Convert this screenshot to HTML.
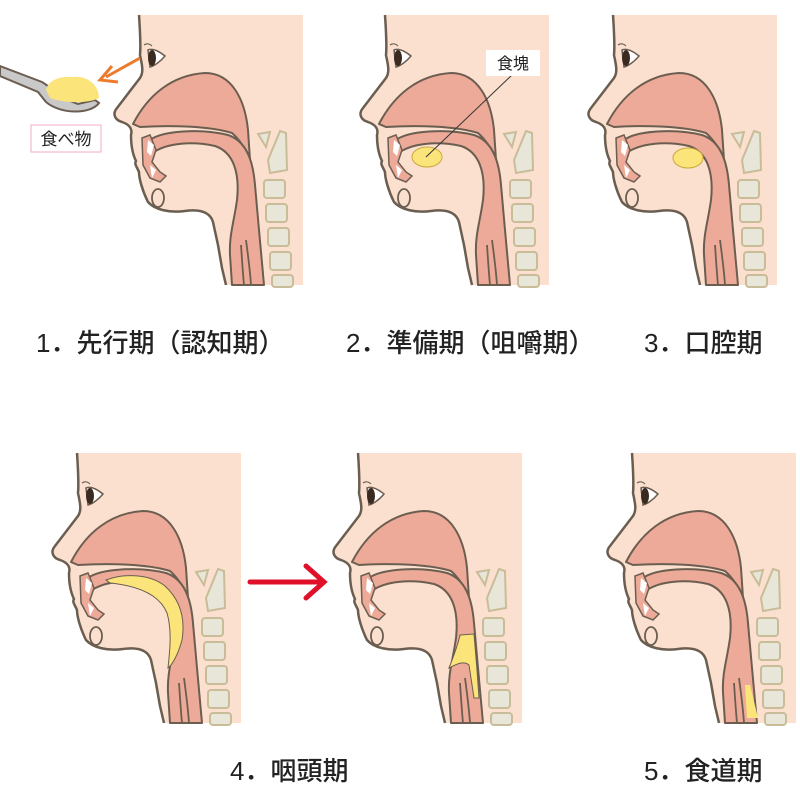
<!DOCTYPE html>
<html><head><meta charset="utf-8"><style>
html,body{margin:0;padding:0;background:#fff;}
svg{display:block}
text{font-family:"Liberation Sans","Noto Sans CJK JP",sans-serif;}
</style></head><body>
<svg width="800" height="800" viewBox="0 0 800 800" xmlns="http://www.w3.org/2000/svg">
<defs>
<g id="head">
  <path d="M139,15 L303,15 L303,285 L226,285 L222,268 L218,245 L213,222 C210,212 200,209 185,211 C170,213 155,210 148,202 C142,190 139,178 139,172 C137,167 134,164 136,161 C133,155 131,145 131,135 C133,128 128,124 122,122 C115,120 112,114 117,108 L140,78 C144,70 142,55 140,45 Z" fill="#fbe0cf"/>
  <g fill="#e8e6d8" stroke="#c9bc98" stroke-width="2">
    <path d="M258,134 L270,132 L266,147 Z"/>
    <path d="M280,131 L286,133 L287,170 L270,173 L268,160 Z"/>
    <rect x="264" y="180" width="21" height="18" rx="3"/>
    <rect x="266" y="204" width="21" height="18" rx="3"/>
    <rect x="268" y="228" width="21" height="18" rx="3"/>
    <rect x="270" y="252" width="21" height="18" rx="3"/>
    <rect x="272" y="275" width="21" height="12" rx="3"/>
  </g>
  <path d="M133,124 C148,95 172,75 205,73 C232,73 245,100 248,130 L250,160 C246,150 240,140 232,133 C210,126 170,125 140,127 Z" fill="#eeaa98" stroke="#6b5e50" stroke-width="2" stroke-linejoin="round"/>
  <path d="M150,140 C162,131 200,128 228,135 C246,141 253,160 255,185 L259,230 L264,285 L232,285 L230,255 C229,235 234,222 237,200 C240,172 233,152 215,146 C192,141 168,143 154,152 Z" fill="#eeaa98" stroke="#6b5e50" stroke-width="2" stroke-linejoin="round"/>
  <path d="M246,240 C248,255 250,270 251,285 M241,245 C242,260 243,275 244,285" fill="none" stroke="#6b5e50" stroke-width="1.8"/>
  <path d="M142,138 L150,135 L156,150 L152,162 L160,172 L166,176 L160,182 L150,178 L143,165 Z" fill="#eeaa98" stroke="#6b5e50" stroke-width="1.5"/>
  <path d="M148,140 L154,145 L151,156 L147,152 Z M150,165 L156,170 L152,178 Z" fill="#fff"/>
  <ellipse cx="158" cy="198" rx="6" ry="9" fill="#fbe0cf" stroke="#6b5e50" stroke-width="1.8"/>
  <path d="M139,15 C140,30 141,45 140,55 C142,65 144,72 140,78 L117,108 C112,114 115,120 122,122 C128,124 133,128 131,135 C131,145 133,155 136,161 C134,164 137,167 139,172 C139,178 142,190 148,202 C155,210 170,213 185,211 C200,209 210,212 213,222 L218,245 L222,268 L226,285" fill="none" stroke="#6b5e50" stroke-width="2.5" stroke-linejoin="round"/>
  <path d="M148,50 C153,48 160,52 165,56 C160,62 154,66 150,67 Z" fill="#fff" stroke="#6b5e50" stroke-width="1.5"/>
  <ellipse cx="152" cy="58" rx="4" ry="8" fill="#3a2a20"/>
  <path d="M144,45 C147,43 150,44 152,46" fill="none" stroke="#6b5e50" stroke-width="1.2"/>
</g>
</defs>

<use href="#head"/>
<use href="#head" transform="translate(246,0)"/>
<use href="#head" transform="translate(474,0)"/>
<use href="#head" transform="translate(-62,438)"/>
<use href="#head" transform="translate(219,438)"/>
<use href="#head" transform="translate(493,438)"/>

<!-- panel 1 spoon & food -->
<path d="M0,66 L42,82 C52,88 60,98 78,104 L95,100 L99,103 C90,115 60,114 46,102 L38,92 L0,76 Z" fill="#c9c9c9" stroke="#6b5e50" stroke-width="2"/>
<path d="M46,90 C48,80 60,76 72,77 C86,75 99,84 99,98 C88,104 62,103 50,98 Z" fill="#fbe47a"/>
<line x1="140" y1="58" x2="106" y2="77" stroke="#ee7a2c" stroke-width="3"/>
<path d="M112,66 L100,80 L118,82" fill="none" stroke="#ee7a2c" stroke-width="3"/>
<rect x="31" y="125" width="70" height="27" fill="#fff" stroke="#f0a8c8" stroke-width="1"/>
<text x="66" y="145" font-size="17" text-anchor="middle" fill="#222">食べ物</text>

<ellipse cx="427" cy="157" rx="15" ry="10" fill="#fbe47a" stroke="#c9a93a" stroke-width="1"/>
<line x1="426" y1="157" x2="512" y2="75" stroke="#333" stroke-width="1"/>
<rect x="486" y="50" width="54" height="26" fill="#fff"/>
<text x="513" y="69" font-size="16" text-anchor="middle" fill="#222">食塊</text>

<ellipse cx="688" cy="158" rx="15" ry="10" fill="#fbe47a" stroke="#c9a93a" stroke-width="1"/>

<path d="M106,580 C125,573 150,574 165,586 C178,598 186,615 182,640 C178,655 172,665 168,668 C170,650 172,630 167,613 C160,596 140,586 110,583 Z" fill="#fbe47a" stroke="#6b5e50" stroke-width="1"/>

<path d="M460,635 L474,634 L477,670 L479,698 L474,698 L469,665 C463,660 455,665 449,668 C454,655 458,645 460,635 Z" fill="#fbe47a" stroke="#6b5e50" stroke-width="1"/>

<path d="M745,685 L750,685 L758,718 L747,718 Z" fill="#fbe47a"/>

<line x1="250" y1="582" x2="322" y2="582" stroke="#e0102a" stroke-width="5" stroke-linecap="round"/>
<path d="M306,566 L324,582 L306,598" fill="none" stroke="#e0102a" stroke-width="5" stroke-linecap="round"/>

<g font-size="26" font-weight="500" fill="#222">
<text x="36" y="352">1．先行期（認知期）</text>
<text x="346" y="352">2．準備期（咀嚼期）</text>
<text x="644" y="352">3．口腔期</text>
<text x="230" y="780">4．咽頭期</text>
<text x="644" y="780">5．食道期</text>
</g>
</svg>
</body></html>
